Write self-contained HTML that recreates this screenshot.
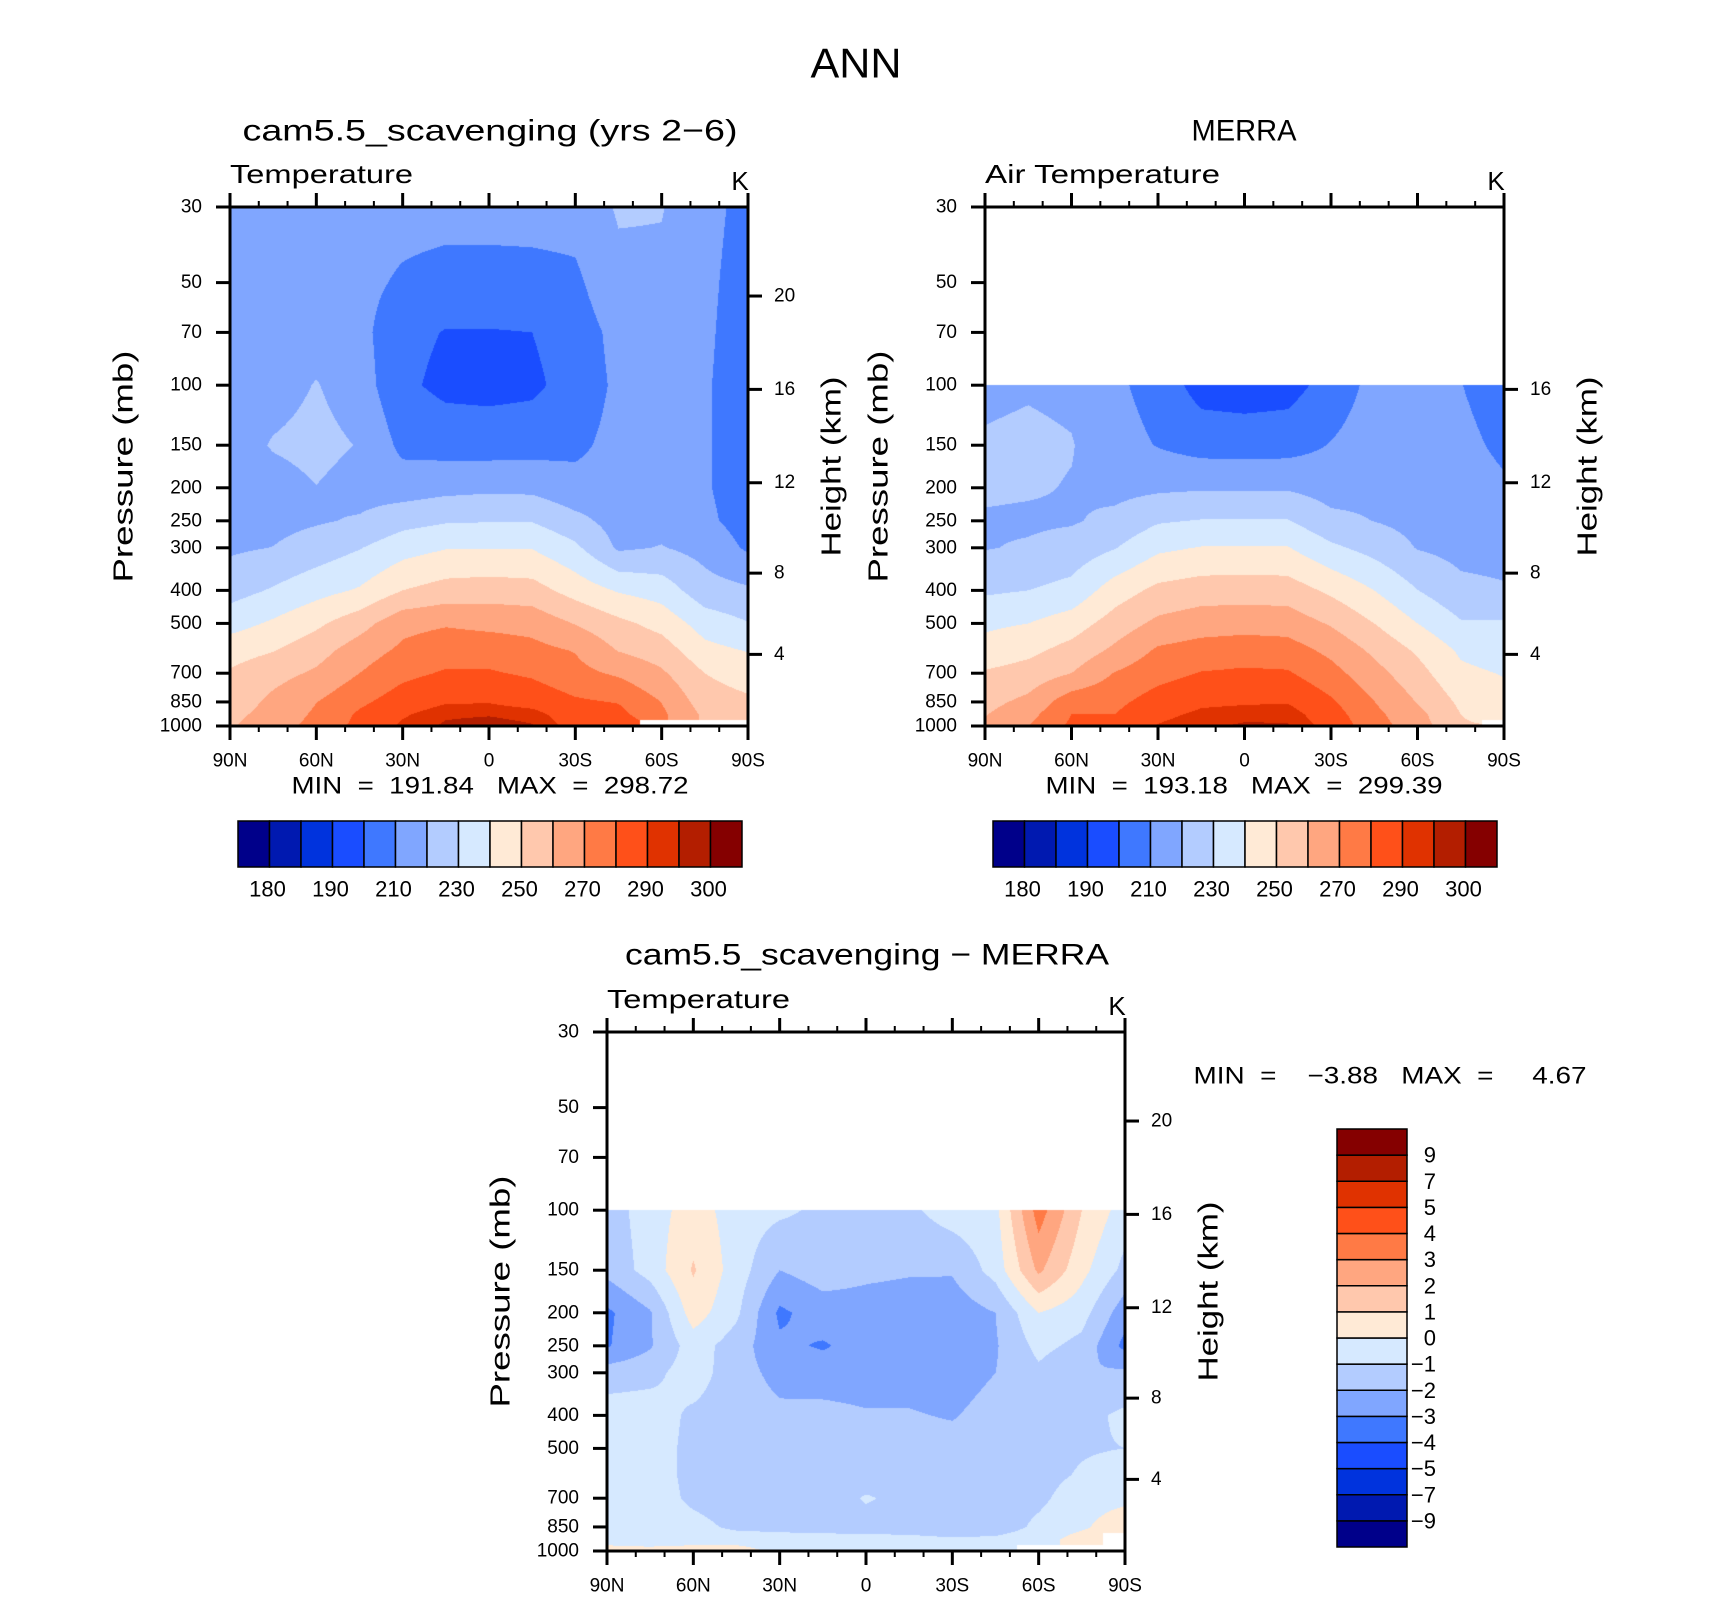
<!DOCTYPE html>
<html><head><meta charset="utf-8"><style>
html,body{margin:0;padding:0;background:#fff;}
#wrap{position:relative;width:1710px;height:1600px;overflow:hidden;background:#fff;}
canvas{position:absolute;}
svg{position:absolute;left:0;top:0;}
text{font-family:"Liberation Sans",sans-serif;fill:#000;}
.pre{white-space:pre;}
</style></head><body>
<div id="wrap">
<canvas id="c1"></canvas>
<canvas id="c2"></canvas>
<canvas id="c3"></canvas>
<svg id="ov" width="1710" height="1600"></svg>
</div>
<script>
// ---------- data ----------
const latLabels = ["90N","60N","30N","0","30S","60S","90S"];
const pressureTicks = [30,50,70,100,150,200,250,300,400,500,700,850,1000];
const heightTicks = [20,16,12,8,4];
const absLevels = [180,185,190,200,210,220,230,240,250,260,270,280,290,295,300];
const absLabels = ["180","190","210","230","250","270","290","300"];
const diffLevels = [-9,-7,-5,-4,-3,-2,-1,0,1,2,3,4,5,7,9];
const diffLabels = ["-9","-7","-5","-4","-3","-2","-1","0","1","2","3","4","5","7","9"];
const palette = ["#00008a","#0019b0","#0033dd","#1a4dff","#3f78ff","#80a6ff","#b3ccff","#d6e9ff","#ffead6","#ffc8ad","#ffa680","#ff7a45","#ff5019","#e03200","#b31e00","#850000"];
const modelP = [30,50,70,100,150,200,250,300,400,500,600,700,850,925,1000];
const modelT = [
[214,215,214,214,214,214,214,214,214,221,220.5,213,207],
[215,215,215,213,208.5,206,206,206.5,208,217.5,218,212,206],
[214,215,216,213,203,199.5,199.5,200,205,213,213,211.5,205.5],
[214,216,220.5,215,202,197.5,197,198,204,212,212.5,211,205],
[215,220.8,223,219.5,207.5,206,205.5,206,208,213,213,211,205],
[215,216,219.8,216,215,217,218,217.5,213,214,214,211,205],
[216,217,219,221,226.5,229,229.5,229.5,223,216,216.5,212,206],
[218.5,220.2,224.5,229.5,236,239.5,239.5,239.5,232,218.5,220.5,216.5,208.5],
[226,231,236.5,241,250,254,255,254,246,239,235.5,224,221.5],
[236,241.5,248,256,267,269,267.5,266.5,259.5,252.5,246.5,235.5,230.5],
[246,249.5,256,265,272,276,275.5,273,269.5,259.5,255,243,239.5],
[251,256.5,261.5,270,277.5,281,281,278.5,273,268.5,261.5,250,245],
[254,262.5,269.8,278,285,289.2,289.5,286.5,281.5,279.5,269.8,255,252],
[257,264,271.5,281.5,289,294,294.5,293,284.5,283,272,258,254],
[259,266,273,283,291.5,296,297.5,295.5,287,285,null,null,null]];
const obsP = [100,150,200,250,300,400,500,600,700,850,925,1000];
const merraT = [
[218,219,218,212,206,196,195,196,204,213,213,210.2,206],
[221,222,220.5,214,209.5,206,205.5,206,210.5,215,214,212,208.5],
[221.5,221,219.5,217,218.2,219,219,219,216,217.5,215.5,213.5,211],
[219,218.5,219,222.5,229,230.5,230.5,230.5,222.5,219.8,217,215,213.5],
[219.5,221,224,229.5,238,240.5,240.5,240.5,232,226.5,219.5,217,216.5],
[228.5,230,233,245,252.5,255,255.5,255,248,240,230.2,222.5,221],
[238,240,245,254.5,262.3,265.5,266,265.5,259,250,240,231,231],
[244,247.5,253.5,262,271.5,274,275.5,274.5,267.5,258,248.5,238.5,235.5],
[251,254,260,270.5,276.5,280.5,281.5,281,273.5,263.5,253.5,242,239.5],
[257,262.5,276,277.5,284.5,288.5,289,289.5,281.5,270.2,259.5,248,243],
[259.5,266.5,280,280,288,291.5,293,293.5,284.5,272.5,263,250,245],
[261,270,282,283.5,290.5,293.5,296,295.5,287,274,265,251,null]];
const diffT = [
[-1.5,-0.5,0.5,-0.5,-0.8,-1.2,-1.3,-1.2,-0.5,-0.3,3.5,1.0,-0.5],
[-1.7,-0.6,1.1,-0.5,-2.0,-1.5,-1.8,-1.9,-1.9,-0.6,2.2,0.3,-1.3],
[-3.2,-2.1,0.5,-0.8,-3.2,-2.5,-2.4,-2.5,-2.6,-2.0,0.0,-0.6,-2.6],
[-3.1,-2.1,-0.5,-1.5,-2.8,-3.1,-2.6,-3.0,-2.7,-2.1,-0.7,-1.3,-3.3],
[-1.5,-1.3,-0.5,-1.6,-2.3,-2.5,-2.5,-2.5,-2.6,-2.0,-1.2,-2.0,-1.8],
[-0.5,-0.5,-1.2,-1.5,-1.8,-1.7,-1.9,-1.9,-2.1,-1.5,-1.3,-1.3,-0.8],
[-0.5,-0.5,-1.3,-1.5,-1.5,-1.5,-1.5,-1.5,-1.5,-1.4,-1.3,-1.1,-1.0],
[-0.5,-0.5,-1.3,-1.5,-1.5,-1.6,-1.5,-1.5,-1.5,-1.4,-1.3,-0.9,-0.5],
[-0.5,-0.5,-1.2,-1.5,-1.5,-1.6,-0.9,-1.3,-1.5,-1.4,-1.2,-0.5,-0.3],
[-0.5,-0.5,-0.7,-1.2,-1.3,-1.3,-1.4,-1.5,-1.9,-1.5,-0.8,-0.2,0.8],
[-0.3,-0.5,-0.5,-0.5,-0.6,-0.7,-0.7,-0.7,-0.8,-0.8,-0.5,0.5,null],
[0.3,0.3,0.5,0.5,-0.3,-0.5,-0.5,-0.5,-0.4,-0.4,null,null,null]];

// ---------- geometry ----------
const P1={x0:230,x1:748,y0:207,y1:726};
const P2={x0:985,x1:1504,y0:207,y1:726};
const P3={x0:607,x1:1125,y0:1032,y1:1551};
const LNR=Math.log(1000/30);
function yOf(P,p){return P.y0+(P.y1-P.y0)*Math.log(p/30)/LNR;}
function xOfLat(P,lat){return P.x0+(P.x1-P.x0)*(90-lat)/180;}
function pOfY(P,y){return 30*Math.exp((y-P.y0)/(P.y1-P.y0)*LNR);}
function pOfZ(zkm){const z=zkm*1000;return z<11000?1013.25*Math.pow(1-2.25577e-5*z,5.25588):226.32*Math.exp(-(z-11000)/6341.6);}
function colorIdx(v,lev){let k=0;while(k<lev.length&&v>=lev[k])k++;return k;}
function hex(h){return [parseInt(h.substr(1,2),16),parseInt(h.substr(3,2),16),parseInt(h.substr(5,2),16)];}
const rgb=palette.map(hex);

function renderField(id,P,levP,grid,lev){
  const c=document.getElementById(id);
  const W=P.x1-P.x0,H=P.y1-P.y0;
  c.width=W;c.height=H;c.style.left=P.x0+'px';c.style.top=P.y0+'px';
  const ctx=c.getContext('2d');const img=ctx.createImageData(W,H);const d=img.data;
  const lp=levP.map(Math.log);
  for(let y=0;y<H;y++){
    const p=pOfY(P,P.y0+y+0.5);const l=Math.log(p);
    for(let x=0;x<W;x++){
      const o=(y*W+x)*4;
      if(l<lp[0]-1e-9||l>lp[lp.length-1]+1e-9){d[o]=d[o+1]=d[o+2]=255;d[o+3]=255;continue;}
      let k=0;while(k<lp.length-2&&l>lp[k+1])k++;
      const ty=Math.min(1,Math.max(0,(l-lp[k])/(lp[k+1]-lp[k])));
      const fx=(x+0.5)/W*12;let i=Math.min(11,Math.floor(fx));const tx=fx-i;
      const cs=[[grid[k][i],(1-tx)*(1-ty)],[grid[k][i+1],tx*(1-ty)],[grid[k+1][i],(1-tx)*ty],[grid[k+1][i+1],tx*ty]];
      let best=cs[0];for(const q of cs)if(q[1]>best[1])best=q;
      let col=[255,255,255];
      if(best[0]!==null){let s=0,w=0;for(const q of cs)if(q[0]!==null){s+=q[0]*q[1];w+=q[1];}
        col=rgb[colorIdx(s/w,lev)];}
      d[o]=col[0];d[o+1]=col[1];d[o+2]=col[2];d[o+3]=255;
    }
  }
  ctx.putImageData(img,0,0);
}
renderField('c1',P1,modelP,modelT,absLevels);
renderField('c2',P2,obsP,merraT,absLevels);
renderField('c3',P3,obsP,diffT,diffLevels);

// ---------- svg overlay ----------
const NS="http://www.w3.org/2000/svg";const ov=document.getElementById('ov');
function el(tag,attrs,parent){const e=document.createElementNS(NS,tag);for(const k in attrs)e.setAttribute(k,attrs[k]);(parent||ov).appendChild(e);return e;}
function txt(s,x,y,size,anchor,extra){const e=el('text',Object.assign({x:x,y:y,'font-size':size,'text-anchor':anchor||'middle','dominant-baseline':'central'},extra||{}));e.textContent=s;return e;}

function axes(P,name,opts){
  const g=el('g',{});
  
  
  el('rect',{x:P.x0,y:P.y0,width:P.x1-P.x0,height:P.y1-P.y0,fill:'none',stroke:'#000','stroke-width':3},g);
  for(let lat=90;lat>=-90;lat-=10){
    const x=xOfLat(P,lat);const major=(lat%30===0);const L=major?14:6;
    el('line',{x1:x,y1:P.y0,x2:x,y2:P.y0-L,stroke:'#000','stroke-width':major?3:2},g);
    el('line',{x1:x,y1:P.y1,x2:x,y2:P.y1+L,stroke:'#000','stroke-width':major?3:2},g);
  }
  latLabels.forEach((s,i)=>{const t=txt(s,P.x0+(P.x1-P.x0)*i/6,P.y1+35,19,'middle',{});
    
    g.appendChild(t);});
  pressureTicks.forEach(p=>{const y=yOf(P,p);
    el('line',{x1:P.x0,y1:y,x2:P.x0-14,y2:y,stroke:'#000','stroke-width':3},g);
    const t=txt(String(p),P.x0-28,y,19,'end',{});
    
    g.appendChild(t);});
  heightTicks.forEach(h=>{const p=pOfZ(h);if(p<opts.pmin)return;const y=yOf(P,p);
    el('line',{x1:P.x1,y1:y,x2:P.x1+14,y2:y,stroke:'#000','stroke-width':3},g);
    const t=txt(String(h),P.x1+26,y,19,'start',{});
    
    g.appendChild(t);});
  const cy=(P.y0+P.y1)/2;
  const pt=txt('Pressure (mb)',0,0,28,'middle',{transform:`translate(${P.x0-107},${cy}) rotate(-90)`,textLength:232,lengthAdjust:'spacingAndGlyphs'});
  
  
  const ht=txt('Height (km)',0,0,28,'middle',{transform:`translate(${P.x1+83},${cy}) rotate(-90)`,textLength:180,lengthAdjust:'spacingAndGlyphs'});
  
  
  const st=txt(opts.sub,P.x0,P.y0-33,26,'start',{textLength:opts.subLen,lengthAdjust:'spacingAndGlyphs'});
  
  
  const k=txt('K',P.x1-8,P.y0-26,26,'middle',{});
  
  
}
axes(P1,'model',{pmin:30,sub:'Temperature',subLen:183});
axes(P2,'merra',{pmin:100,sub:'Air Temperature',subLen:235});
axes(P3,'diff',{pmin:30,sub:'Temperature',subLen:183});

let t;
t=txt('ANN',856,63,42,'middle',{textLength:91,lengthAdjust:'spacingAndGlyphs'});


t=txt('cam5.5_scavenging (yrs 2\u22126)',490,131,30,'middle',{textLength:495,lengthAdjust:'spacingAndGlyphs'});


t=txt('MERRA',1244,131,30,'middle',{textLength:105,lengthAdjust:'spacingAndGlyphs'});


t=txt('cam5.5_scavenging \u2212 MERRA',867,955,30,'middle',{textLength:484,lengthAdjust:'spacingAndGlyphs'});


t=txt('MIN  =  191.84   MAX  =  298.72',490,786,24,'middle',{class:'pre',textLength:397,lengthAdjust:'spacingAndGlyphs'});


t=txt('MIN  =  193.18   MAX  =  299.39',1244,786,24,'middle',{class:'pre',textLength:397,lengthAdjust:'spacingAndGlyphs'});


t=txt('MIN  =    \u22123.88   MAX  =     4.67',1390,1076,24,'middle',{class:'pre',textLength:393,lengthAdjust:'spacingAndGlyphs'});



function hbar(x0,x1,y0,y1,name){
  const g=el('g',{});
  
  
  const w=(x1-x0)/palette.length;
  palette.forEach((c,i)=>{const r=el('rect',{x:x0+i*w,y:y0,width:w,height:y1-y0,fill:c,stroke:'#000','stroke-width':1.5},g);
    
    });
  absLabels.forEach((s,j)=>{const tt=txt(s,x0+(2*j+1)*w-2,y1+22,22,'middle',{});
    
    g.appendChild(tt);});
}
hbar(238,742,821,867,'model-colorbar');
hbar(993,1497,821,867,'merra-colorbar');
(function(){
  const x0=1337,x1=1407,y0=1129,y1=1547;const g=el('g',{});
  
  
  const h=(y1-y0)/palette.length;
  palette.forEach((c,i)=>{const r=el('rect',{x:x0,y:y1-(i+1)*h,width:x1-x0,height:h,fill:c,stroke:'#000','stroke-width':1.5},g);
    
    });
  diffLabels.forEach((s,j)=>{const tt=txt(s.replace('-','\u2212'),1436,y1-(j+1)*h,22,'end',{});
    
    g.appendChild(tt);});
})();
</script>
</body></html>
